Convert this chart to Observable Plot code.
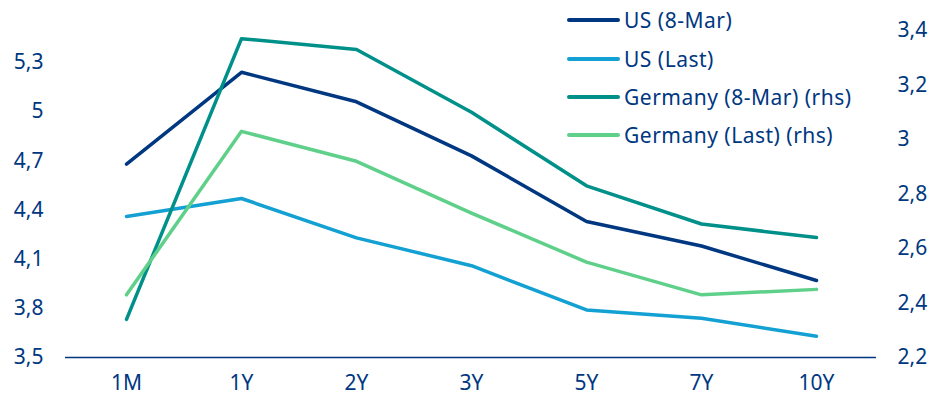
<!DOCTYPE html>
<html><head><meta charset="utf-8">
<script src="https://cdn.jsdelivr.net/npm/d3@7"></script>
<script src="https://cdn.jsdelivr.net/npm/@observablehq/plot@0.6"></script>
<style>
body{margin:0;background:#fff;font-family:"Noto Sans",sans-serif;}
#wrap{position:relative;width:931px;height:401px;}
#legend{position:absolute;left:567px;top:0;color:#003781;font-size:21px;letter-spacing:0.5px;}
.row{position:absolute;left:0;display:flex;align-items:center;white-space:nowrap;}
.sw{width:53px;height:4px;border-radius:2px;margin-right:4px;}
</style></head><body>
<div id="wrap"><div id="chart"></div><div id="legend"></div></div>
<script>
const tenors = ["1M","1Y","2Y","3Y","5Y","7Y","10Y"];
const usMar = [4.68,5.24,5.06,4.73,4.33,4.18,3.97];
const usLast = [4.36,4.47,4.23,4.06,3.79,3.74,3.63];
const deMar = [2.34,3.37,3.33,3.10,2.83,2.69,2.64];
const deLast = [2.43,3.03,2.92,2.73,2.55,2.43,2.45];
const leftTicks = [3.5,3.8,4.1,4.4,4.7,5,5.3];
const rightTicks = [2.2,2.4,2.6,2.8,3.0,3.2,3.4];
const seriesNames = ["US (8-Mar)","US (Last)","Germany (8-Mar) (rhs)","Germany (Last) (rhs)"];
const colors = ["#003781","#13a0d3","#00908a","#5fd08a"];

const leftDom = [3.5,5.495], rightDom = [2.2,3.4];
const toLeft = v => leftDom[0] + (v-rightDom[0])/(rightDom[1]-rightDom[0])*(leftDom[1]-leftDom[0]);
const toRight = v => rightDom[0] + (v-leftDom[0])/(leftDom[1]-leftDom[0])*(rightDom[1]-rightDom[0]);
const fmt = v => String(+v.toFixed(2)).replace(".", ",");

const data = [];
[usMar,usLast,deMar,deLast].forEach((arr,si)=>{
  arr.forEach((v,i)=>data.push({series:seriesNames[si], tenor:tenors[i], y: si>=2 ? toLeft(v) : v}));
});

const chart = Plot.plot({
  width:931, height:401,
  marginLeft:65, marginRight:55, marginTop:30, marginBottom:44,
  style:{fontFamily:"'Noto Sans', sans-serif", fontSize:"21px", color:"#003781", background:"transparent"},
  x:{type:"point", domain:tenors, padding:0.5},
  y:{domain:leftDom},
  color:{domain:seriesNames, range:colors},
  marks:[
    Plot.axisX({tickSize:0, tickPadding:18, label:null, fontSize:21}),
    Plot.axisY({ticks:leftTicks, tickFormat:fmt, tickSize:0, tickPadding:22, label:null, anchor:"left", fontSize:21}),
    Plot.axisY({ticks:rightTicks.map(toLeft), tickFormat:v=>fmt(toRight(v)), tickSize:0, tickPadding:21, label:null, anchor:"right", fontSize:21}),
    Plot.ruleY([leftDom[0]], {stroke:"#003781", strokeWidth:1.5}),
    Plot.line(data, {x:"tenor", y:"y", stroke:"series", z:"series", strokeWidth:3.5})
  ]
});
document.getElementById("chart").appendChild(chart);

const leg = document.getElementById("legend");
const rowsY = [20,59,97,135];
seriesNames.forEach((n,i)=>{
  const r = document.createElement("div");
  r.className="row"; r.style.top=(rowsY[i]-15)+"px"; r.style.height="30px";
  r.innerHTML = `<div class="sw" style="background:${colors[i]}"></div><span>${n}</span>`;
  leg.appendChild(r);
});
</script></body></html>
